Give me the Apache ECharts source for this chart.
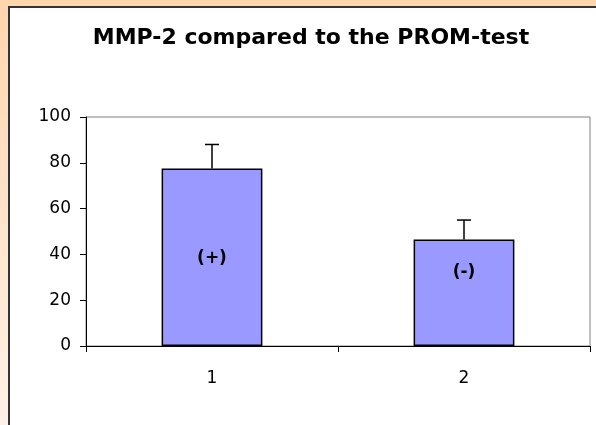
<!DOCTYPE html>
<html><head><meta charset="utf-8">
<script src="https://cdn.jsdelivr.net/npm/echarts@6/dist/echarts.min.js"></script>
<style>html,body{margin:0;padding:0;background:#fff}#c{width:596px;height:425px}</style>
</head><body><div id="c"></div>
<script>
const titleText = 'MMP-2 compared to the PROM-test';
const categories = ['1', '2'];
const values = [77.5, 46.5];
const errors = [10.5, 8.5];
const barLabels = ['(+)', '(-)'];
const yMin = 0, yMax = 100, yInterval = 20;

const chart = echarts.init(document.getElementById('c'), null, {renderer: 'canvas'});
const FONT = '"DejaVu Sans", "Liberation Sans", Arial, sans-serif';
const labelOffsets = [[0, 1], [0, -20]];

const option = {
  backgroundColor: {
    type: 'linear', x: 0, y: 0, x2: 0, y2: 1,
    colorStops: [{offset: 0, color: '#FFD6AC'}, {offset: 1, color: '#FFF1E8'}]
  },
  animation: false,
  graphic: [{
    type: 'rect', z: -10, silent: true,
    shape: {x: 9, y: 7, width: 620, height: 450},
    style: {fill: '#FFFFFF', stroke: '#333333', lineWidth: 2}
  }],
  title: {
    text: titleText, left: 306, textAlign: 'center', top: 22,
    textStyle: {fontFamily: FONT, fontSize: 22, fontWeight: 'bold', color: '#000'}
  },
  grid: {left: 86, right: 6, top: 117, bottom: 79, show: true, borderColor: '#808080', borderWidth: 1, backgroundColor: '#FFFFFF'},
  xAxis: {
    type: 'category', data: categories,
    axisLine: {lineStyle: {color: '#000', width: 1}},
    axisTick: {show: true, length: 6, lineStyle: {color: '#000'}},
    axisLabel: {fontFamily: FONT, fontSize: 17, color: '#000', margin: 24},
  },
  yAxis: {
    type: 'value', min: yMin, max: yMax, interval: yInterval,
    axisLine: {show: true, lineStyle: {color: '#000', width: 1}},
    axisTick: {show: true, length: 6, lineStyle: {color: '#000'}},
    axisLabel: {fontFamily: FONT, fontSize: 17, color: '#000', margin: 15},
    splitLine: {show: false}
  },
  series: [{
    type: 'bar', barCategoryGap: '60%',
    data: values.map((v, i) => ({
      value: v,
      label: {show: true, position: 'inside', formatter: barLabels[i], offset: labelOffsets[i],
        fontFamily: FONT, fontSize: 17, fontWeight: 'bold', color: '#000'}
    })),
    itemStyle: {color: '#9999FF', borderColor: '#000', borderWidth: 1.5}
  }, {
    type: 'custom', z: 5,
    data: values.map((v, i) => [i, v, v + errors[i]]),
    renderItem: function (params, api) {
      const i = api.value(0);
      const lo = api.coord([i, api.value(1)]);
      const hi = api.coord([i, api.value(2)]);
      const half = 7;
      return {
        type: 'group',
        children: [
          {type: 'line', shape: {x1: lo[0], y1: lo[1], x2: hi[0], y2: hi[1]}, style: {stroke: '#000', lineWidth: 1.5}},
          {type: 'line', shape: {x1: hi[0] - half, y1: hi[1], x2: hi[0] + half, y2: hi[1]}, style: {stroke: '#000', lineWidth: 1.5}}
        ]
      };
    }
  }]
};
chart.setOption(option);
</script></body></html>
